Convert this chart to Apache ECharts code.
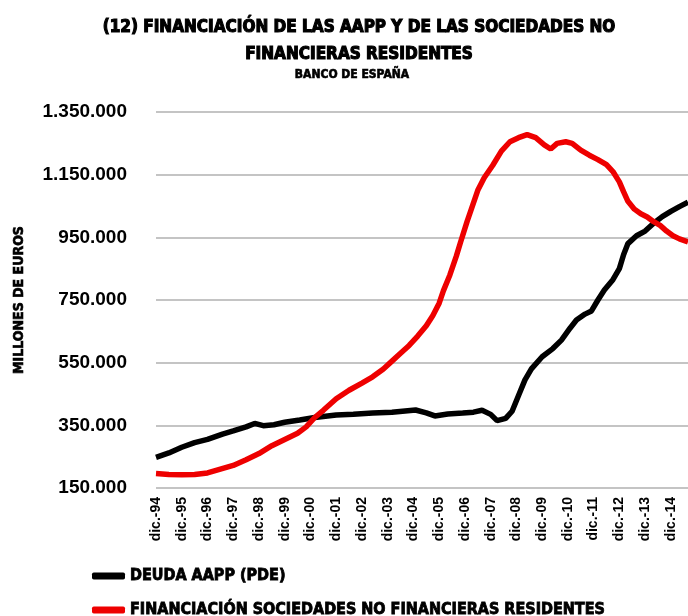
<!DOCTYPE html>
<html>
<head>
<meta charset="utf-8">
<title>Financiación AAPP y sociedades no financieras</title>
<script src="https://cdn.jsdelivr.net/npm/echarts@6.0.0/dist/echarts.min.js"></script>
<style>
  html, body { margin: 0; padding: 0; background: #fff; }
  #chart { width: 688px; height: 616px; }
</style>
</head>
<body>
<div id="chart"></div>
<script>
// etiquetas del eje X (una cada 12 meses, desde dic.-94)
const etiquetasX = ['dic.-94', 'dic.-95', 'dic.-96', 'dic.-97', 'dic.-98', 'dic.-99', 'dic.-00',
  'dic.-01', 'dic.-02', 'dic.-03', 'dic.-04', 'dic.-05', 'dic.-06', 'dic.-07', 'dic.-08',
  'dic.-09', 'dic.-10', 'dic.-11', 'dic.-12', 'dic.-13', 'dic.-14']

// meses contados desde dic.-94 y valores (millones de euros)
const mesesDeuda = [0, 6, 12, 18, 24, 31, 36, 42, 46, 50, 55, 60, 67, 74, 84, 92, 101, 110, 121,
  126, 130, 136, 143, 148, 152, 156, 159, 163, 166, 169, 172, 175, 180, 185, 189, 193, 196, 200,
  203, 206, 209, 213, 216, 218, 220, 224, 228, 232, 236, 240, 244, 248]
const deudaAAPP = [248000, 262000, 280000, 295000, 305000, 322000, 332000, 345000, 356000, 349000,
  352000, 360000, 367000, 375000, 383000, 385000, 389000, 392000, 399000, 390000, 380000, 386000,
  389000, 392000, 398000, 385000, 365000, 372000, 395000, 445000, 495000, 530000, 569000, 595000,
  622000, 660000, 686000, 705000, 715000, 750000, 782000, 815000, 850000, 895000, 930000, 955000,
  970000, 995000, 1016000, 1033000, 1048000, 1062000]

const mesesSociedades = [0, 6, 12, 18, 24, 30, 36, 42, 48, 54, 60, 66, 70, 74, 78, 84, 90, 96, 101,
  106, 110, 114, 118, 122, 126, 129, 132, 134, 137, 140, 142, 145, 147, 150, 153, 157, 161, 165,
  169, 173, 177, 181, 184, 187, 191, 194, 198, 202, 206, 210, 213, 216, 218, 220, 223, 226, 229,
  232, 235, 238, 241, 244, 248]
const financiacionSociedades = [196000, 193000, 192000, 193000, 198000, 210000, 222000, 240000,
  260000, 285000, 305000, 325000, 345000, 375000, 398000, 435000, 462000, 485000, 505000, 530000,
  555000, 580000, 605000, 635000, 668000, 700000, 740000, 780000, 830000, 890000, 935000, 1000000,
  1040000, 1100000, 1140000, 1180000, 1225000, 1255000, 1268000, 1278000, 1268000, 1245000,
  1232000, 1250000, 1255000, 1250000, 1228000, 1212000, 1198000, 1182000, 1160000, 1127000,
  1095000, 1065000, 1040000, 1025000, 1015000, 1000000, 988000, 970000, 955000, 945000, 935000]

const nombreDeuda = 'DEUDA AAPP (PDE)'
const nombreSociedades = 'FINANCIACIÓN SOCIEDADES NO FINANCIERAS RESIDENTES'

const fuenteEstrecha = "'Liberation Sans Narrow', 'DejaVu Sans Condensed', sans-serif"
const fuenteNumeros = "'Liberation Sans', Arial, sans-serif"

function formatoMiles (v) {
  return String(v).replace(/\B(?=(\d{3})+(?!\d))/g, '.')
}

// estilo de texto negro y grueso (imitando la letra tipo Impact)
function textoGrueso (size, borde) {
  return {
    fontFamily: fuenteEstrecha,
    fontWeight: 'bold',
    fontSize: size,
    color: '#000',
    textBorderColor: '#000',
    textBorderWidth: borde
  }
}

const chartInstance = echarts.init(document.getElementById('chart'))

const leyendaBase = {
  orient: 'vertical',
  left: 87,
  icon: 'roundRect',
  itemWidth: 33,
  itemHeight: 7,
  textStyle: Object.assign(textoGrueso(16, 0.8), { lineHeight: 20 })
}

const option = {
  backgroundColor: '#fff',
  animation: false,
  title: [{
    text: '(12) FINANCIACIÓN DE LAS AAPP Y DE LAS SOCIEDADES NO\nFINANCIERAS RESIDENTES',
    left: 354,
    top: 9,
    textAlign: 'center',
    textStyle: Object.assign(textoGrueso(17, 1.1), { lineHeight: 27 })
  }, {
    text: 'BANCO DE ESPAÑA',
    left: 347,
    top: 64,
    textAlign: 'center',
    textStyle: textoGrueso(12, 0.6)
  }],
  legend: [
    Object.assign({ top: 561, data: [nombreDeuda] }, leyendaBase),
    Object.assign({ top: 595, data: [nombreSociedades] }, leyendaBase)
  ],
  grid: {
    left: 156,
    right: 0,
    top: 112,
    bottom: 128
  },
  xAxis: {
    type: 'value',
    min: 0,
    max: 248,
    interval: 12,
    axisLine: { show: false },
    axisTick: { show: false },
    splitLine: { show: false },
    axisLabel: {
      rotate: 90,
      margin: 9,
      showMaxLabel: false,
      fontFamily: fuenteNumeros,
      fontWeight: 'bold',
      fontSize: 14,
      color: '#000',
      formatter: v => etiquetasX[v / 12] || ''
    }
  },
  yAxis: {
    type: 'value',
    min: 150000,
    max: 1350000,
    interval: 200000,
    name: 'MILLONES DE EUROS',
    nameLocation: 'middle',
    nameGap: 130,
    nameTextStyle: textoGrueso(14, 0.6),
    axisLine: { show: false },
    axisTick: { show: false },
    splitLine: { lineStyle: { color: '#c4c4c4', width: 2 } },
    axisLabel: {
      margin: 29,
      fontFamily: fuenteNumeros,
      fontWeight: 'bold',
      fontSize: 19,
      color: '#000',
      formatter: v => formatoMiles(v)
    }
  },
  series: [{
    name: nombreDeuda,
    type: 'line',
    symbol: 'none',
    color: '#000',
    lineStyle: { color: '#000', width: 5.5 },
    data: mesesDeuda.map((m, i) => [m, deudaAAPP[i]])
  }, {
    name: nombreSociedades,
    type: 'line',
    symbol: 'none',
    color: '#ee0000',
    lineStyle: { color: '#ee0000', width: 5.5 },
    data: mesesSociedades.map((m, i) => [m, financiacionSociedades[i]])
  }]
}

chartInstance.setOption(option)
</script>
</body>
</html>
